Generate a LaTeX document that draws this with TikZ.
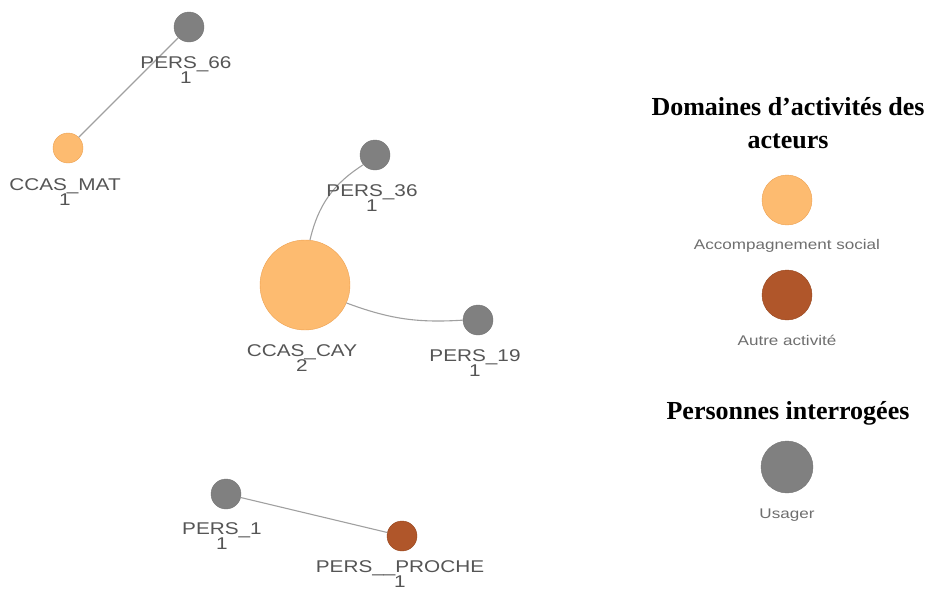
\documentclass[tikz,border=0pt]{standalone}
\usepackage{fontspec}
\setmainfont{Liberation Serif}
\newfontfamily\labfont[FakeStretch=1.22]{Liberation Sans}
\usepackage{tikz}
\usetikzlibrary{positioning,calc}

\definecolor{soc}{RGB}{253,187,112}
\definecolor{socdark}{RGB}{236,160,80}
\definecolor{autre}{RGB}{176,86,42}
\definecolor{autredark}{RGB}{150,70,30}
\definecolor{usa}{RGB}{128,128,128}
\definecolor{usadark}{RGB}{118,118,118}
\definecolor{edgegray}{RGB}{160,160,160}
\definecolor{labgray}{RGB}{85,85,85}

\begin{document}
\begin{tikzpicture}[x=1pt,y=-1pt,
  usager/.style={circle,draw=usadark,fill=usa,inner sep=0pt,minimum size=30pt},
  social/.style={circle,draw=socdark,fill=soc,inner sep=0pt,minimum size=30pt},
  proche/.style={circle,draw=autredark,fill=autre,inner sep=0pt,minimum size=30pt},
  lbl/.style={align=center,text=labgray,inner sep=0pt,font=\labfont\fontsize{17}{15.5}\selectfont},
  leglbl/.style={text=labgray!85,inner sep=0pt,font=\labfont\fontsize{14}{16}\selectfont},
  legttl/.style={align=center,inner sep=0pt,font=\bfseries\fontsize{26}{33}\selectfont},
  link/.style={draw=edgegray,line width=1.1pt}]
\useasboundingbox (0,0) rectangle (932,592);
% graph
\node[usager] (p66) at (189,27) {};
\node[social] (mat) at (68,148) {};
\node[usager] (p36) at (375,155) {};
\node[social,minimum size=90pt] (cay) at (305,285) {};
\node[usager] (p19) at (478,320) {};
\node[usager] (p1) at (226,494) {};
\node[proche] (proche) at (402,536) {};
\draw[link] (p66) -- (mat);
\draw[link] (p36) to[bend right=22] (cay);
\draw[link] (cay) to[bend right=12] (p19);
\draw[link] (p1) -- (proche);
\node[lbl] (l66) at (186,70) {PERS\_66\\1};
\node[lbl] (lmat) at (65,192) {CCAS\_MAT\\1};
\node[lbl] (l36) at (372,198) {PERS\_36\\1};
\node[lbl] (lcay) at (302,358) {CCAS\_CAY\\2};
\node[lbl] (l19) at (475,363) {PERS\_19\\1};
\node[lbl] (l1) at (222,536) {PERS\_1\\1};
\node[lbl] (lproche) at (400,574) {PERS\_\_PROCHE\\1};
% legend
\node[legttl] (ttl1) at (788,123) {Domaines d’activités des\\acteurs};
\node[social,minimum size=50pt] (kSoc) at (787,200) {};
\node[leglbl] (lSoc) at (787,246) {Accompagnement social};
\node[proche,minimum size=50pt] (kAut) at (787,295) {};
\node[leglbl] (lAut) at (787,340) {Autre activité};
\node[legttl] (ttl2) at (788,413) {Personnes interrogées};
\node[usager,minimum size=52pt] (kUsa) at (787,467) {};
\node[leglbl] (lUsa) at (787,515) {Usager};
\end{tikzpicture}
\end{document}
